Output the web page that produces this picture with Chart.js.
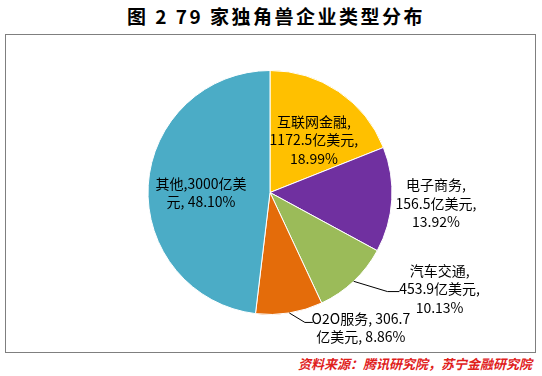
<!DOCTYPE html>
<html>
<head>
<meta charset="utf-8">
<script src="https://cdn.jsdelivr.net/npm/chart.js@4.4.0/dist/chart.umd.min.js"></script>
<style>
  body { margin: 0; width: 542px; height: 376px; background: #fff; position: relative; overflow: hidden; font-family: "Noto Sans CJK SC", "Noto Sans", sans-serif; }
  #title { position: absolute; left: 0; width: 552px; top: 2px; text-align: center; font-size: 19px; font-weight: bold; letter-spacing: 2.5px; color: #000; }
  #box { position: absolute; left: 5px; top: 34px; width: 529px; height: 317px; border: 1px solid #7f7f7f; }
  #source { position: absolute; right: 10px; top: 354px; font-size: 13px; font-style: italic; font-weight: bold; color: #e0201b; }
  #wrap { position: absolute; left: 0; top: 0; width: 542px; height: 376px; }
</style>
</head>
<body>
<div id="title">图 2 79 家独角兽企业类型分布</div>
<div id="box"></div>
<div id="source">资料来源：腾讯研究院，苏宁金融研究院</div>
<div id="wrap"><canvas id="pieChart" width="542" height="376"></canvas></div>
<script>
const categories = ["互联网金融", "电子商务", "汽车交通", "O2O服务", "其他"];
const amounts = ["1172.5", "156.5", "453.9", "306.7", "3000"];
const shares = [18.99, 13.92, 10.13, 8.86, 48.10];
const colors = ["#FFC000", "#7030A0", "#9BBB59", "#E46C0A", "#4BACC6"];

// label placement in units of the pie radius, relative to the centre
const labelLayout = [
  { x: 0.36, y: -0.43, wrap: 0 },
  { x: 1.36, y: 0.09, wrap: 0 },
  { x: 1.39, y: 0.79, wrap: 0, leader: [[0.963, 0.812], [1.061, 0.812]] },
  { x: 0.745, y: 1.11, wrap: 1, leader: [[0.286, 1.065], [0.351, 1.065]] },
  { x: -0.565, y: 0.0, wrap: 2 }
];

function labelLines(i) {
  const name = categories[i], amt = amounts[i], pct = shares[i].toFixed(2) + "%";
  const w = labelLayout[i].wrap;
  if (w === 1) return [name + ", " + amt, "亿美元, " + pct];
  if (w === 2) return [name + "," + amt + "亿美", "元, " + pct];
  return [name + ",", amt + "亿美元,", pct];
}

const pieLabels = {
  id: "pieLabels",
  afterDraw(chart) {
    const ctx = chart.ctx;
    const arcs = chart.getDatasetMeta(0).data;
    ctx.save();
    ctx.font = "14px 'Noto Sans CJK SC', sans-serif";
    ctx.fillStyle = "#000";
    ctx.textAlign = "center";
    ctx.textBaseline = "middle";
    arcs.forEach((arc, i) => {
      const cx = arc.x, cy = arc.y, r = arc.outerRadius;
      const lay = labelLayout[i];
      if (lay.leader) {
        const mid = (arc.startAngle + arc.endAngle) / 2;
        ctx.beginPath();
        ctx.strokeStyle = "#000";
        ctx.lineWidth = 1;
        ctx.moveTo(cx + r * Math.cos(mid), cy + r * Math.sin(mid));
        lay.leader.forEach(p => ctx.lineTo(cx + r * p[0], cy + r * p[1]));
        ctx.stroke();
      }
      const lines = labelLines(i);
      const lh = 18.5;
      const x0 = cx + r * lay.x;
      const y0 = cy + r * lay.y - (lines.length - 1) * lh / 2;
      lines.forEach((t, k) => ctx.fillText(t, x0, y0 + k * lh));
    });
    ctx.restore();
  }
};

new Chart(document.getElementById("pieChart"), {
  type: "pie",
  data: {
    labels: categories,
    datasets: [{
      data: shares,
      backgroundColor: colors,
      borderColor: "#fff",
      borderWidth: 1
    }]
  },
  options: {
    responsive: false,
    animation: false,
    layout: { padding: { left: 20, right: 22, top: 70, bottom: 61 } },
    plugins: {
      legend: { display: false },
      tooltip: { enabled: false }
    }
  },
  plugins: [pieLabels]
});
</script>
</body>
</html>
